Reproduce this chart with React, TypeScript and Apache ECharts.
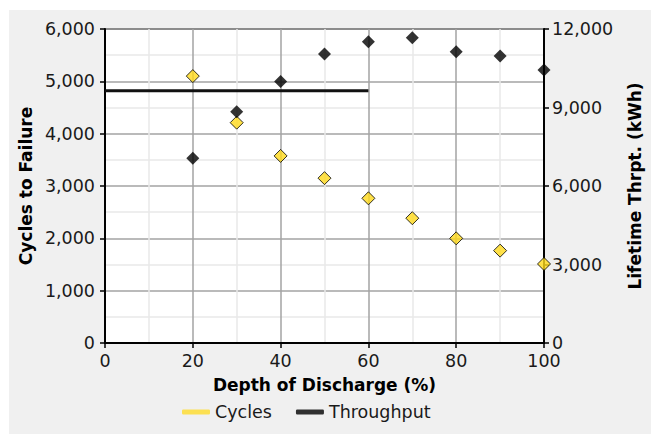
import React, { useEffect, useRef } from "react";
import * as echarts from "echarts";

const depth = [20, 30, 40, 50, 60, 70, 80, 90, 100];
const cycles = [5100, 4210, 3575, 3150, 2765, 2385, 2000, 1765, 1510];
const throughput = [7060, 8840, 9990, 11040, 11510, 11670, 11130, 10970, 10430];
const refLineX = [0, 60];
const refLineY = [4820, 4820];
const leftTicks = [0, 1000, 2000, 3000, 4000, 5000, 6000];
const rightTicks = [0, 3000, 6000, 9000, 12000];

const FONT = "DejaVu Sans";
const TXT = "#1a1a1a";

export default function App() {
  const ref = useRef<HTMLDivElement>(null);
  useEffect(() => {
    if (!ref.current) return;
    const chart = echarts.init(ref.current, undefined, { renderer: "svg" });
    const fmt = (v: number) => v.toLocaleString("en-US");
    chart.setOption({
      animation: false,
      backgroundColor: "#f0f0f0",
      textStyle: { fontFamily: FONT },
      grid: {
        left: 93,
        top: 19,
        width: 444,
        height: 314,
        show: true,
        backgroundColor: "#ffffff",
        borderColor: "#111",
        borderWidth: 1.5,
      },
      legend: {
        left: 168,
        top: 388,
        itemWidth: 28,
        itemHeight: 5,
        itemGap: 24,
        icon: "roundRect",
        textStyle: { fontFamily: FONT, fontSize: 17.5, color: TXT },
        data: [
          { name: "Cycles", itemStyle: { color: "#ffdc2a", borderWidth: 0, borderColor: "transparent" } },
          { name: "Throughput", itemStyle: { color: "#000", borderWidth: 0, borderColor: "transparent" } },
        ],
      },
      xAxis: {
        type: "value",
        min: 0,
        max: 100,
        interval: 20,
        name: "Depth of Discharge (%)",
        nameLocation: "middle",
        nameGap: 33,
        nameTextStyle: { fontFamily: FONT, fontSize: 17, fontWeight: "bold", color: "#000" },
        axisLine: { show: true, onZero: false, lineStyle: { color: "#000", width: 2 } },
        axisTick: { show: true, length: 5, lineStyle: { color: "#000", width: 1.5 } },
        axisLabel: { fontFamily: FONT, fontSize: 17.5, color: TXT, margin: 9 },
        splitLine: { show: true, lineStyle: { color: "#a3a3a3", width: 1.5 } },
        minorTick: { show: false, splitNumber: 2 },
        minorSplitLine: { show: true, lineStyle: { color: "#e8e8e8", width: 1.5 } },
      },
      yAxis: [
        {
          type: "value",
          min: leftTicks[0],
          max: leftTicks[leftTicks.length - 1],
          interval: 1000,
          name: "Cycles to Failure",
          nameLocation: "middle",
          nameGap: 66,
          nameTextStyle: { fontFamily: FONT, fontSize: 17, fontWeight: "bold", color: "#000" },
          axisLine: { show: true, lineStyle: { color: "#000", width: 2 } },
          axisTick: { show: true, length: 5, lineStyle: { color: "#000", width: 1.5 } },
          axisLabel: { fontFamily: FONT, fontSize: 17.5, color: TXT, margin: 10, formatter: fmt },
          splitLine: { show: true, lineStyle: { color: "#a3a3a3", width: 1.5 } },
          minorTick: { show: false, splitNumber: 2 },
          minorSplitLine: { show: true, lineStyle: { color: "#e8e8e8", width: 1.5 } },
        },
        {
          type: "value",
          min: rightTicks[0],
          max: rightTicks[rightTicks.length - 1],
          interval: 3000,
          position: "right",
          name: "Lifetime Thrpt. (kWh)",
          nameLocation: "middle",
          nameGap: 82,
          nameRotate: 90,
          nameTextStyle: { fontFamily: FONT, fontSize: 17, fontWeight: "bold", color: "#000" },
          axisLine: { show: true, lineStyle: { color: "#000", width: 2 } },
          axisTick: { show: true, length: 5, lineStyle: { color: "#000", width: 1.5 } },
          axisLabel: { fontFamily: FONT, fontSize: 17.5, color: TXT, margin: 8, formatter: fmt },
          splitLine: { show: false },
        },
      ],
      series: [
        {
          name: "ref",
          type: "line",
          yAxisIndex: 0,
          data: refLineX.map((x, i) => [x, refLineY[i]]),
          symbol: "none",
          lineStyle: { color: "#111", width: 3 },
          z: 1,
          silent: true,
        },
        {
          name: "Cycles",
          type: "scatter",
          yAxisIndex: 0,
          data: depth.map((d, i) => [d, cycles[i]]),
          symbol: "diamond",
          symbolSize: 13,
          itemStyle: { color: "#ffd91a", borderColor: "#000", borderWidth: 1 },
          z: 3,
        },
        {
          name: "Throughput",
          type: "scatter",
          yAxisIndex: 1,
          data: depth.map((d, i) => [d, throughput[i]]),
          symbol: "diamond",
          symbolSize: 13,
          itemStyle: { color: "#000" },
          z: 3,
        },
      ],
    });
    return () => chart.dispose();
  }, []);
  return (
    <div
      ref={ref}
      style={{ position: "absolute", left: 9, top: 10, width: 642, height: 424 }}
    />
  );
}
